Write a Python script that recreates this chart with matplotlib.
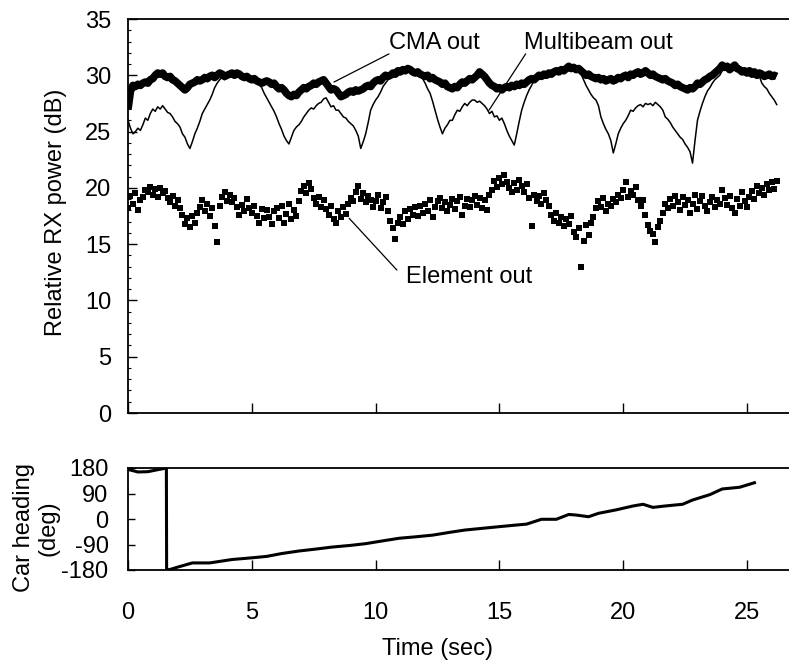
import numpy as np
import matplotlib
matplotlib.use("Agg")
import matplotlib.pyplot as plt
from matplotlib.ticker import MultipleLocator

plt.rcParams['font.family'] = ['Liberation Sans', 'DejaVu Sans']

# ---------------- data ----------------
time_s = np.round(np.arange(0, 26.25, 0.1), 1)   # 0.0 ... 26.2 s

cma_out = [
    27.0, 28.6, 29.1, 29.0, 29.2, 29.1, 29.3, 29.4, 29.3, 29.6,
    29.7, 30.0, 30.2, 30.1, 30.2, 29.9, 29.8, 29.9, 29.6, 29.5,
    29.3, 29.1, 28.9, 28.7, 28.9, 29.2, 29.3, 29.4, 29.6, 29.5,
    29.6, 29.8, 29.7, 29.9, 30.0, 29.8, 30.0, 30.2, 30.1, 29.9,
    30.0, 30.1, 30.2, 30.0, 30.2, 30.1, 29.9, 29.8, 29.9, 29.7,
    29.6, 29.7, 29.5, 29.4, 29.3, 29.4, 29.5, 29.4, 29.2, 29.3,
    29.0, 28.8, 28.9, 28.7, 28.4, 28.2, 28.1, 28.3, 28.2, 28.5,
    28.7, 28.9, 28.8, 29.0, 29.1, 29.3, 29.2, 29.4, 29.5, 29.6,
    29.3, 29.0, 28.7, 28.8, 28.7, 28.4, 28.1, 28.2, 28.3, 28.5,
    28.6, 28.5, 28.7, 28.6, 28.7, 28.8, 29.0, 29.1, 29.0, 29.3,
    29.5, 29.6, 29.5, 29.8, 30.0, 29.9, 30.0, 30.2, 30.1, 30.4,
    30.3, 30.5, 30.4, 30.6, 30.5, 30.3, 30.2, 30.3, 30.1, 30.0,
    29.9, 30.0, 29.7, 29.8, 29.6, 29.5, 29.4, 29.2, 29.3, 29.0,
    28.9, 28.8, 29.0, 28.9, 29.2, 29.4, 29.3, 29.5, 29.7, 29.6,
    29.8, 30.0, 30.3, 30.1, 29.9, 29.6, 29.3, 29.1, 29.0, 28.8,
    28.9, 28.7, 28.9, 29.0, 28.9, 29.1, 29.0, 29.2, 29.1, 29.3,
    29.2, 29.4, 29.6, 29.7, 29.6, 29.8, 30.0, 29.9, 30.1, 30.0,
    30.2, 30.1, 30.3, 30.4, 30.3, 30.5, 30.4, 30.6, 30.8, 30.6,
    30.7, 30.5, 30.6, 30.4, 30.2, 30.0, 30.1, 29.9, 29.8, 29.7,
    29.8, 29.6, 29.7, 29.5, 29.6, 29.7, 29.5, 29.6, 29.8, 29.7,
    29.9, 30.0, 29.8, 30.1, 30.0, 30.2, 30.3, 30.1, 30.2, 30.4,
    30.2, 30.0, 30.1, 29.9, 29.8, 29.7, 29.6, 29.7, 29.5, 29.4,
    29.3, 29.1, 29.2, 29.0, 28.9, 28.8, 28.7, 28.9, 28.8, 29.0,
    29.3, 29.2, 29.4, 29.6, 29.7, 29.9, 30.0, 30.2, 30.4, 30.6,
    30.9, 30.7, 30.8, 30.5, 30.7, 30.9, 30.6, 30.5, 30.3, 30.4,
    30.2, 30.4, 30.1, 30.3, 30.0, 30.2, 30.1, 29.9, 30.0, 30.1,
    29.9, 30.0, 29.9,
]

multibeam_out = [
    26.0, 25.3, 24.8, 25.0, 25.3, 25.1, 25.6, 26.2, 26.0, 26.6,
    27.0, 26.8, 27.2, 27.0, 27.3, 27.0, 26.7, 26.6, 26.3, 25.9,
    25.7, 25.4, 24.8, 24.5, 23.9, 23.5, 24.1, 24.8, 25.3, 25.9,
    26.6, 27.0, 27.4, 27.8, 28.3, 28.9, 29.3, 29.6, 29.8, 29.6,
    29.8, 29.9, 30.0, 29.8, 30.0, 29.9, 29.7, 29.6, 29.7, 29.5,
    29.4, 29.5, 29.3, 29.2, 28.9, 28.4, 28.0, 27.6, 27.2, 26.8,
    26.3, 25.7, 25.2, 24.6, 24.2, 23.9, 24.5, 25.1, 25.4, 25.6,
    25.9, 26.3, 26.6, 26.9, 27.1, 27.0, 27.3, 27.5, 27.6, 27.9,
    28.0, 27.6, 27.2, 27.3, 26.9, 26.9, 26.6, 26.3, 26.2, 25.9,
    25.7, 25.5, 25.1, 24.6, 23.5, 24.1, 24.8, 25.8, 26.9, 27.4,
    27.8, 28.1, 28.5, 29.0, 29.3, 29.6, 29.8, 29.9, 29.9, 30.1,
    30.1, 30.2, 30.2, 30.3, 30.3, 30.1, 30.0, 30.0, 29.9, 29.7,
    29.3, 28.8, 28.4, 27.7, 26.9, 26.1, 25.4, 24.8, 25.3, 25.6,
    26.0, 26.0, 26.5, 26.9, 26.8, 27.2, 27.5, 27.3, 27.6, 27.8,
    27.8, 27.6, 27.7, 27.5, 27.3, 27.0, 26.6, 26.8, 26.3, 26.4,
    26.0, 26.2, 25.7, 25.1, 24.6, 24.2, 23.8, 24.8, 25.9, 26.9,
    27.6, 28.2, 28.7, 29.1, 29.6, 29.5, 29.8, 29.7, 29.9, 29.8,
    30.0, 29.9, 30.1, 30.2, 30.1, 30.3, 30.2, 30.4, 30.6, 30.4,
    30.5, 30.3, 30.4, 30.1, 29.6, 29.1, 28.7, 28.3, 28.0, 27.8,
    27.3, 26.3, 25.7, 25.2, 24.8, 24.2, 23.1, 23.9, 24.8, 25.3,
    25.7, 26.0, 26.4, 26.9, 26.8, 27.1, 27.3, 27.4, 27.2, 27.5,
    27.4, 27.5, 27.3, 27.6, 27.4, 27.2, 26.9, 26.3, 26.1, 25.8,
    25.4, 25.1, 24.8, 24.5, 24.3, 23.9, 23.6, 23.2, 22.2, 24.2,
    26.0, 26.8, 27.5, 28.1, 28.6, 28.9, 29.3, 29.6, 29.8, 30.0,
    30.4, 30.6, 30.5, 30.3, 30.4, 30.6, 30.4, 30.3, 30.1, 30.2,
    30.0, 30.1, 29.9, 30.0, 29.8, 29.9, 29.3, 29.0, 28.8, 28.4,
    28.1, 27.8, 27.4,
]

element_out = [
    18.2, 19.3, 18.6, 19.5, 18.0, 18.9, 19.2, 19.8, 19.6, 20.1,
    19.4, 19.9, 19.2, 20.0, 19.5, 19.7, 19.1, 18.7, 19.3, 18.4,
    18.9, 18.2, 17.6, 16.8, 17.3, 16.5, 17.5, 16.9, 17.8, 18.3,
    18.9, 17.9, 18.6, 17.5, 18.2, 16.6, 15.2, 18.4, 19.2, 19.6,
    18.8, 19.4, 18.7, 19.1, 18.3, 17.6, 18.5, 17.9, 19.0, 18.2,
    17.8, 18.4, 17.5, 16.9, 18.1, 17.3, 18.0, 17.4, 16.8, 17.9,
    18.2, 17.3, 18.4, 16.9, 17.7, 18.6, 17.2, 18.0, 17.5, 18.8,
    19.7, 20.2, 19.5, 20.4, 19.9, 19.1, 18.6, 19.2, 18.3, 18.9,
    18.1, 17.6, 18.4, 17.2, 16.9, 17.9, 17.4, 18.3, 17.7, 18.6,
    19.1, 18.8, 19.6, 20.2, 19.0, 19.5, 18.7, 19.3, 18.9, 18.3,
    18.8, 19.4, 18.2, 18.7, 19.2, 17.9, 17.1, 16.4, 15.5, 16.9,
    17.4, 16.8, 17.9, 17.2, 18.1, 17.6, 18.3, 17.5, 18.4, 17.8,
    18.6, 17.9, 18.9, 17.4, 18.3, 18.8, 19.1, 18.2, 18.7, 17.9,
    18.5, 19.0, 18.1, 18.8, 19.2, 17.6, 18.4, 19.0, 18.3, 18.9,
    19.3, 18.5, 19.1, 18.2, 18.9, 18.0, 19.4, 19.8, 20.6, 20.1,
    20.9, 20.3, 21.1, 20.5, 20.0, 19.6, 20.4, 19.8, 20.7, 20.2,
    19.6, 20.3, 19.1, 16.6, 19.4, 18.8, 19.3, 18.6, 19.5, 18.9,
    18.4, 17.6, 17.1, 17.8, 16.9, 17.4, 16.6, 17.2, 16.8, 17.5,
    16.1, 15.6, 16.4, 13.0, 15.3, 16.7, 15.8, 16.9, 17.4, 18.2,
    18.8, 18.3, 19.1, 17.9, 18.6, 18.4, 19.0, 18.7, 19.4, 19.1,
    19.8, 20.5, 19.2, 19.7, 19.4, 20.1, 18.9, 18.4, 18.9, 17.6,
    16.7, 16.2, 15.9, 15.2, 16.5, 17.1, 17.8, 18.6, 18.2, 19.0,
    18.4, 19.3, 18.7, 18.0, 19.2, 18.5, 18.9, 17.8, 18.6, 19.4,
    18.1, 18.8, 19.3, 18.4, 17.9, 18.7, 19.2, 18.3, 18.9, 18.6,
    19.8, 19.1, 18.5, 19.3, 18.2, 17.8, 19.0, 18.4, 19.6, 18.8,
    18.3, 19.2, 19.7, 19.0, 20.2, 19.5, 20.0, 19.4, 20.3, 19.8,
    20.5, 19.9, 20.6,
]

heading_time = [0, 0.4, 0.8, 1.2, 1.55, 1.56, 1.7, 2.0, 2.6, 3.3, 4.2, 5.0, 5.6,
                6.2, 6.9, 7.6, 8.25, 9.0, 9.6, 10.3, 10.95, 11.6, 12.3, 13.0,
                13.6, 14.3, 15.0, 15.6, 16.1, 16.7, 17.3, 17.8, 18.1, 18.6,
                19.0, 19.7, 20.4, 20.8, 21.2, 21.7, 22.4, 22.8, 23.5, 24.0,
                24.7, 25.3]
heading_deg = [175, 166, 167, 174, 180, -180, -178, -170, -155, -155, -143,
               -137, -132, -122, -113, -106, -99, -93, -87, -77, -68, -63,
               -57, -47, -39, -33, -27, -22, -18, -1, -1, 16, 14, 8, 20, 32,
               46, 52, 41, 46, 52, 67, 86, 106, 112, 128]

power_ticks = [0, 5, 10, 15, 20, 25, 30, 35]
heading_ticks = [-180, -90, 0, 90, 180]
time_ticks = [0, 5, 10, 15, 20, 25]

# ---------------- figure ----------------
W, H = 789, 668
fig = plt.figure(figsize=(W / 100, H / 100), dpi=100)
FS = 17

ax = fig.add_axes([128 / W, 1 - 413 / H, (W - 128) / W, (413 - 19) / H])
ax2 = fig.add_axes([128 / W, 1 - 570 / H, (W - 128) / W, (570 - 468) / H])

XMAX = (W - 128) / 24.76

for a in (ax, ax2):
    a.spines['right'].set_visible(False)
    for s in ('left', 'top', 'bottom'):
        a.spines[s].set_linewidth(1.3)
    a.set_xlim(0, XMAX)
    a.set_xticks(time_ticks)

# top panel
ax.plot(time_s, multibeam_out, color='black', lw=1.1, zorder=2)
ax.plot(time_s, cma_out, color='black', lw=5.5, solid_capstyle='butt',
        solid_joinstyle='round', zorder=3)
ax.plot(time_s, element_out, linestyle='none', marker='s', markersize=4.3,
        color='black', markeredgewidth=0, zorder=3)
ax.set_ylim(0, 35)
ax.set_yticks(power_ticks)
ax.yaxis.set_minor_locator(MultipleLocator(1))
ax.tick_params(axis='y', which='major', direction='in', length=6.5, width=1,
               pad=12, labelsize=FS)
ax.tick_params(axis='y', which='minor', direction='in', length=2, width=0.8)
ax.tick_params(axis='x', which='major', direction='in', length=7, width=1,
               labelbottom=False)

line_kw = dict(arrowprops=dict(arrowstyle='-', color='black', lw=0.9,
                               shrinkA=0, shrinkB=0))
ax.annotate('', xy=(8.32, 29.4), xytext=(10.54, 31.9), **line_kw)
ax.annotate('', xy=(14.58, 26.9), xytext=(16.06, 31.9), **line_kw)
ax.annotate('', xy=(8.93, 17.3), xytext=(10.86, 12.7), **line_kw)
ax.text(10.54, 32.86, 'CMA out', fontsize=FS, ha='left', va='center')
ax.text(16.0, 32.86, 'Multibeam out', fontsize=FS, ha='left', va='center')
ax.text(11.23, 12.08, 'Element out', fontsize=FS, ha='left', va='center')

# bottom panel
ax2.plot(heading_time, heading_deg, color='black', lw=2.2, zorder=3,
         solid_joinstyle='round')
ax2.set_ylim(-180, 180)
ax2.set_yticks(heading_ticks)
ax2.set_yticklabels([str(v) for v in heading_ticks])
ax2.tick_params(axis='y', direction='in', length=5, width=1, pad=14,
                labelsize=FS)
ax2.tick_params(axis='x', direction='in', length=7, width=1, pad=23,
                labelsize=FS)

fig.text(56 / W, 1 - 212 / H, 'Relative RX power (dB)', rotation=90,
         ha='center', va='center', fontsize=FS)
fig.text(36 / W, 1 - 528 / H, 'Car heading\n(deg)', rotation=90,
         ha='center', va='center', fontsize=FS, multialignment='center',
         linespacing=1.15)
fig.text(437 / W, 1 - 649 / H, 'Time (sec)', ha='center', va='center',
         fontsize=FS)

fig.savefig('out.png', dpi=100)
